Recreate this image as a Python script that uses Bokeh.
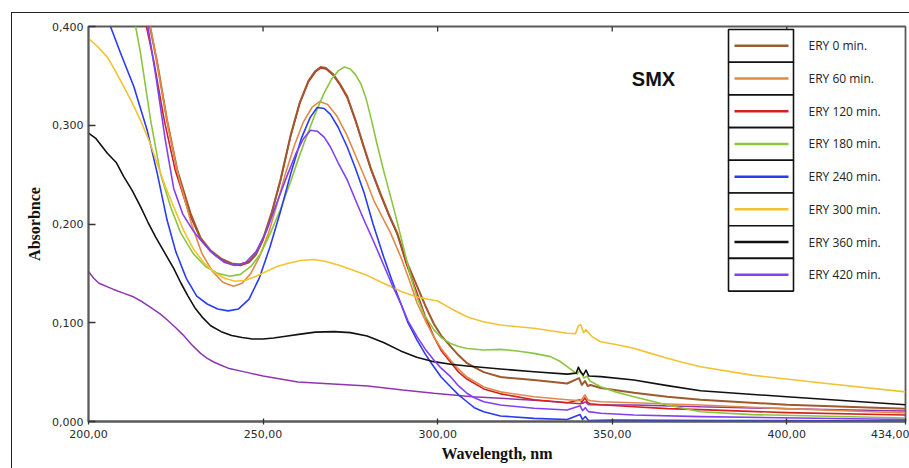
from bokeh.plotting import figure
from bokeh.models import FixedTicker, Range1d, Label
from bokeh.layouts import column
from bokeh.embed import file_html
from bokeh.resources import INLINE
from bokeh.core.properties import value

# ---------------- data ----------------
x_ticks = [200, 250, 300, 350, 400, 434]
x_tick_labels = ["200,00", "250,00", "300,00", "350,00", "400,00", "434,00"]
y_ticks = [0.0, 0.1, 0.2, 0.3, 0.4]
y_tick_labels = ["0,000", "0,100", "0,200", "0,300", "0,400"]

series_labels = ["ERY 0 min.", "ERY 60 min.", "ERY 120 min.", "ERY 180 min.",
                 "ERY 240 min.", "ERY 300 min.", "ERY 360 min.", "ERY 420 min."]
series_colors = ["#9C5A2E", "#E08A4A", "#D42020", "#8CC63E",
                 "#2B3BF0", "#F2C230", "#111111", "#8040F8"]
extra_color = "#9035B0"

# (wavelength nm, absorbance)
ery_0 = [(215, 0.47), (217.6, 0.400), (219.7, 0.363), (222.5, 0.305), (225.4, 0.255), (229.2, 0.211),
         (232.1, 0.186), (235, 0.173), (238, 0.165), (241, 0.160), (243.5, 0.159), (246, 0.162),
         (248, 0.170), (250, 0.185), (252.5, 0.212), (255, 0.245), (257.9, 0.290), (260.5, 0.323),
         (263, 0.345), (265, 0.355), (266.5, 0.359), (268, 0.358), (270, 0.352), (272, 0.342),
         (274.1, 0.329), (276.5, 0.305), (278.9, 0.278), (281, 0.255), (283.6, 0.231), (286, 0.210),
         (288.4, 0.191), (291, 0.163), (294.1, 0.137), (296.5, 0.117), (298.9, 0.099), (301, 0.087),
         (303.7, 0.076), (306, 0.067), (308.4, 0.059), (311, 0.054), (313.2, 0.050), (318, 0.045),
         (327.6, 0.042), (337.1, 0.0385), (340.5, 0.044), (341.3, 0.037), (342.2, 0.041), (343.0, 0.036),
         (343.8, 0.037), (346.7, 0.034), (356.2, 0.029), (365.8, 0.025), (375.3, 0.022), (400, 0.017),
         (434, 0.013)]

ery_60 = [(215, 0.46), (218, 0.395), (220, 0.355), (223, 0.295), (226, 0.245), (229.5, 0.200),
          (232.5, 0.170), (235.5, 0.152), (238.5, 0.141), (241.5, 0.137), (244, 0.140), (246.5, 0.150),
          (249, 0.167), (251.5, 0.190), (254, 0.220), (256.5, 0.252), (259, 0.280), (261.5, 0.303),
          (264, 0.318), (266.2, 0.324), (268.5, 0.321), (271.2, 0.309), (274, 0.290), (277, 0.265),
          (279.5, 0.244), (281.7, 0.224), (284.6, 0.204), (286.5, 0.191), (289.4, 0.167), (292, 0.142),
          (294.1, 0.120), (296.5, 0.102), (298.9, 0.086), (301, 0.074), (303.7, 0.062), (306, 0.053),
          (308.4, 0.045), (313.2, 0.035), (318, 0.030), (327.6, 0.025), (337.1, 0.022), (341, 0.021),
          (342.2, 0.027), (343, 0.022), (343.8, 0.021), (346.7, 0.020), (356.2, 0.019), (365.8, 0.0177),
          (375.3, 0.0167), (400, 0.013), (434, 0.0086)]

ery_120 = [(214.0, 0.46), (216.6, 0.40), (218.8, 0.363), (221.7, 0.305), (224.8, 0.255), (228.8, 0.211),
           (232.1, 0.185), (235, 0.172), (238, 0.164), (241, 0.159), (243.5, 0.158), (246, 0.161),
           (248, 0.169), (250, 0.184), (252.5, 0.211), (255, 0.244), (257.9, 0.289), (260.5, 0.322),
           (263, 0.344), (265, 0.354), (266.5, 0.358), (268, 0.357), (270, 0.351), (272, 0.341),
           (274.1, 0.328), (276.5, 0.304), (278.9, 0.277), (281, 0.254), (283.6, 0.230), (286, 0.209),
           (288.4, 0.190), (291, 0.160), (294.1, 0.130), (296.5, 0.106), (298.9, 0.086), (301, 0.072),
           (303.7, 0.060), (306, 0.050), (308.4, 0.043), (313.2, 0.033), (318, 0.028), (327.6, 0.022),
           (337.1, 0.019), (341, 0.018), (342.2, 0.024), (343, 0.019), (343.8, 0.018), (346.7, 0.017),
           (356.2, 0.015), (365.8, 0.013), (375.3, 0.012), (400, 0.009), (434, 0.0066)]

ery_180 = [(211, 0.46), (213.5, 0.40), (214.9, 0.373), (217.8, 0.305), (220.6, 0.251), (223.5, 0.2175),
           (226.4, 0.191), (230, 0.170), (233.5, 0.157), (237, 0.150), (240.5, 0.147), (243.5, 0.149),
           (246.5, 0.157), (249.3, 0.170), (252, 0.190), (255, 0.215), (257.9, 0.243), (260.5, 0.270),
           (262.6, 0.290), (265, 0.312), (267.4, 0.332), (269.5, 0.346), (271.5, 0.355), (273.3, 0.359),
           (275, 0.357), (276.5, 0.351), (278, 0.342), (279.5, 0.327), (281, 0.306), (282.7, 0.280),
           (284.6, 0.253), (286.5, 0.228), (288, 0.208), (289.4, 0.188), (291, 0.165), (292.4, 0.145),
           (294, 0.127), (296, 0.109), (298.9, 0.093), (301, 0.085), (303.7, 0.079), (306, 0.076),
           (308.4, 0.074), (313.2, 0.0724), (318, 0.073), (322.8, 0.0714), (327.6, 0.069), (332.3, 0.0657),
           (335, 0.061), (337.1, 0.0555), (340, 0.048), (340.8, 0.052), (341.9, 0.044), (342.8, 0.046),
           (343.6, 0.041), (346.7, 0.0352), (351, 0.030), (356.2, 0.0251), (365.8, 0.0167), (375.3, 0.0099),
           (390, 0.007), (434, 0.0035)]

ery_240 = [(204, 0.43), (206.3, 0.40), (209.2, 0.373), (213, 0.339), (216.8, 0.295), (219.7, 0.251),
           (222.5, 0.204), (225, 0.172), (228, 0.145), (231, 0.127), (234, 0.119), (237, 0.114),
           (240, 0.112), (243, 0.114), (246, 0.124), (249, 0.146), (252, 0.177), (255, 0.213),
           (258, 0.252), (261, 0.287), (263.5, 0.308), (265.5, 0.318), (267.5, 0.317), (269.3, 0.311),
           (271.5, 0.298), (274.1, 0.278), (276.5, 0.256), (278.9, 0.232), (281.5, 0.200), (284.6, 0.166),
           (287, 0.142), (289.4, 0.120), (291.5, 0.100), (294.1, 0.0825), (296.5, 0.068), (298.9, 0.0555),
           (301, 0.045), (303.7, 0.0352), (306, 0.027), (308.4, 0.020), (310.5, 0.014), (313.2, 0.0099),
           (318, 0.0056), (327.6, 0.0032), (337.1, 0.002), (340.8, 0.007), (341.5, 0.002), (342.3, 0.005),
           (343.2, 0.001), (350, 0.0015), (380, 0.001), (434, 0.0005)]

ery_300 = [(200, 0.388), (202.5, 0.380), (205.4, 0.369), (207.5, 0.356), (210.1, 0.339), (212.5, 0.323),
           (214.9, 0.305), (217.5, 0.283), (219.7, 0.261), (222, 0.238), (224.4, 0.2175), (227.3, 0.193),
           (230, 0.175), (233, 0.161), (236, 0.151), (239, 0.145), (242, 0.142), (245, 0.143),
           (248, 0.147), (251, 0.152), (254, 0.157), (257, 0.160), (260.7, 0.163), (264.5, 0.164),
           (268, 0.162), (272, 0.158), (276, 0.153), (279.8, 0.148), (284.5, 0.140), (289.4, 0.132),
           (294, 0.126), (300, 0.122), (304, 0.114), (308.4, 0.106), (313, 0.101), (318, 0.0977),
           (327.6, 0.0944), (337.1, 0.0893), (339.5, 0.089), (340.3, 0.097), (341.0, 0.098), (341.8, 0.090),
           (342.5, 0.093), (343.2, 0.090), (344.2, 0.086), (346.7, 0.0808), (351, 0.078), (356.2, 0.0741),
           (361, 0.069), (365.8, 0.064), (370, 0.060), (375.3, 0.0555), (390, 0.047), (410, 0.039),
           (434, 0.030)]

ery_360 = [(200, 0.292), (202, 0.287), (205.4, 0.2716), (208, 0.262), (210.1, 0.248), (212.5, 0.234),
           (214.9, 0.2175), (217, 0.202), (219.2, 0.187), (221.8, 0.171), (224.4, 0.155), (226.5, 0.140),
           (228.5, 0.127), (230.5, 0.115), (232.5, 0.106), (235, 0.097), (238, 0.091), (241, 0.087),
           (244, 0.085), (247, 0.0835), (250, 0.0835), (253, 0.0845), (256, 0.086), (260.7, 0.0885),
           (265, 0.0905), (270.3, 0.091), (275, 0.090), (279.8, 0.0865), (284.5, 0.080), (289.4, 0.0715),
           (294, 0.065), (298.9, 0.0606), (303.7, 0.058), (308.4, 0.0562), (318, 0.0532), (327.6, 0.0504),
           (337.1, 0.048), (339.7, 0.049), (340.3, 0.055), (341, 0.050), (341.7, 0.047), (342.5, 0.052),
           (343.3, 0.046), (346.7, 0.0454), (356.2, 0.042), (365.8, 0.0363), (375.3, 0.0312), (400, 0.025),
           (434, 0.017)]

ery_420 = [(214, 0.46), (217, 0.40), (219.5, 0.345), (222, 0.285), (224.4, 0.236), (227, 0.210),
           (230, 0.193), (233, 0.180), (236, 0.169), (239, 0.161), (242, 0.158), (245, 0.161),
           (248, 0.172), (251, 0.193), (254, 0.222), (257, 0.250), (259.5, 0.272), (261.5, 0.286),
           (263.6, 0.295), (265.5, 0.294), (267.5, 0.288), (269.3, 0.278), (271.5, 0.262), (274.1, 0.2446),
           (276.5, 0.224), (278.9, 0.204), (281.7, 0.182), (284.6, 0.158), (287, 0.138), (289.4, 0.1197),
           (291.5, 0.102), (294.1, 0.0859), (296.5, 0.073), (298.9, 0.0623), (301, 0.054), (303.7, 0.0454),
           (306, 0.036), (308.4, 0.0286), (310.5, 0.024), (313.2, 0.020), (318, 0.0167), (327.6, 0.0134),
           (337.1, 0.0117), (340.8, 0.016), (341.5, 0.011), (342.3, 0.014), (343.2, 0.010), (346.7, 0.0083),
           (356.2, 0.0066), (375.3, 0.0049), (434, 0.002)]

extra_curve = [(200, 0.152), (201.5, 0.145), (203, 0.140), (207, 0.134), (210, 0.130), (213, 0.126),
               (215.5, 0.121), (218, 0.115), (220.5, 0.109), (222.5, 0.103), (225, 0.095), (227, 0.088),
               (229.5, 0.078), (232.1, 0.069), (234, 0.064), (236, 0.060), (238, 0.057), (240, 0.054),
               (245, 0.050), (250, 0.046), (260, 0.040), (270, 0.038), (280, 0.036), (290, 0.032),
               (298.9, 0.0286), (310, 0.025), (318, 0.0235), (330, 0.021), (337.1, 0.019), (340.8, 0.022),
               (341.5, 0.018), (342.3, 0.020), (343.2, 0.017), (356.2, 0.0167), (375.3, 0.015), (400, 0.013),
               (434, 0.0106)]

series_data = [ery_0, ery_60, ery_120, ery_180, ery_240, ery_300, ery_360, ery_420]

# ---------------- layout ----------------
OFF_X, OFF_Y = 12, 13              # figure offset inside the page (outer frame)
W, H = 909 - OFF_X, 468 - OFF_Y
FL, FR, FT, FB = 88, 905, 26, 421   # frame edges in page pixels
X0, X1, Y0, Y1 = 200, 434, 0.0, 0.4

p = figure(width=W, height=H, x_range=Range1d(X0, X1), y_range=Range1d(Y0, Y1),
           output_backend="svg", toolbar_location=None,
           min_border_left=FL - OFF_X, min_border_right=W - (FR - OFF_X),
           min_border_top=FT - OFF_Y, min_border_bottom=H - (FB - OFF_Y))
p.xgrid.visible = False
p.ygrid.visible = False
p.background_fill_color = "white"
p.border_fill_color = "white"
p.outline_line_color = "#5a5a5a"
p.outline_line_width = 1.8


def px_x(px):
    return X0 + (px - FL) * (X1 - X0) / (FR - FL)


def px_y(py):
    return Y1 - (py - FT) * (Y1 - Y0) / (FB - FT)


tick_font = "DejaVu Sans"
xa = p.xaxis[0]
xa.ticker = FixedTicker(ticks=x_ticks)
xa.major_label_overrides = dict(zip(x_ticks, x_tick_labels))
xa.major_tick_in = 3
xa.major_tick_out = 3
xa.minor_tick_line_color = None
xa.major_label_standoff = 5
xa.axis_label = "Wavelength, nm"
xa.axis_label_standoff = 4

ya = p.yaxis[0]
ya.ticker = FixedTicker(ticks=y_ticks)
ya.major_label_overrides = dict(zip(y_ticks, y_tick_labels))
ya.major_tick_in = 7
ya.major_tick_out = 0
ya.minor_tick_line_color = None
ya.major_label_standoff = 5
ya.axis_label = "Absorbnce"
ya.axis_label_standoff = 6

for ax in (xa, ya):
    ax.axis_line_color = "#5a5a5a"
    ax.axis_line_width = 1.8
    ax.major_tick_line_color = "#333333"
    ax.major_tick_line_width = 1.3
    ax.major_label_text_font = tick_font
    ax.major_label_text_font_size = "11px"
    ax.major_label_text_color = "#2a2a2a"
    ax.axis_label_text_font = "Liberation Serif"
    ax.axis_label_text_font_style = "bold"
    ax.axis_label_text_font_size = "16px"
    ax.axis_label_text_color = "#111111"

# small inward ticks along the top edge
inner_ticks = x_ticks[1:-1]
p.segment(x0=inner_ticks, x1=inner_ticks, y0=[Y1] * len(inner_ticks),
          y1=[px_y(FT + 5)] * len(inner_ticks), line_color="#333333", line_width=1.3)

# curves
ex_wl, ex_abs = zip(*extra_curve)
p.line(list(ex_wl), list(ex_abs), line_color=extra_color, line_width=1.5)
draw_order = [2, 0, 1, 3, 4, 5, 6, 7]
for i in draw_order:
    wl, ab = zip(*series_data[i])
    p.line(list(wl), list(ab), line_color=series_colors[i],
           line_width=2.0 if i == 0 else 1.6, line_join="round")

# legend (boxes drawn inside the frame)
LG_L, LG_R, LG_T, ROW_H = 728, 793, 29, 32.7
n = len(series_labels)
tops = [px_y(LG_T + k * ROW_H) for k in range(n)]
bots = [px_y(LG_T + (k + 1) * ROW_H) for k in range(n)]
mids = [px_y(LG_T + (k + 0.5) * ROW_H) for k in range(n)]
p.quad(left=[px_x(LG_L)] * n, right=[px_x(LG_R)] * n, top=tops, bottom=bots,
       fill_color="white", line_color="#111111", line_width=1.6)
p.segment(x0=[px_x(734)] * n, x1=[px_x(788)] * n, y0=mids, y1=mids,
          line_color=series_colors, line_width=2.5)
p.text(x=[px_x(808)] * n, y=mids, text=series_labels, text_font=value("Open Sans"),
       text_font_size="12px", text_color="#222222", text_baseline="middle", text_align="left")

p.add_layout(Label(x=px_x(653), y=px_y(78), text="SMX", text_align="center",
                   text_baseline="middle", text_font="Liberation Sans",
                   text_font_style="bold", text_font_size="20px", text_color="#111111"))

root = column(p, styles={"margin-left": "11px", "margin-top": "12px",
                         "border-left": "1px solid #222", "border-top": "1px solid #222"})

html = file_html(root, INLINE)
with open("out.html", "w") as f:
    f.write(html)
